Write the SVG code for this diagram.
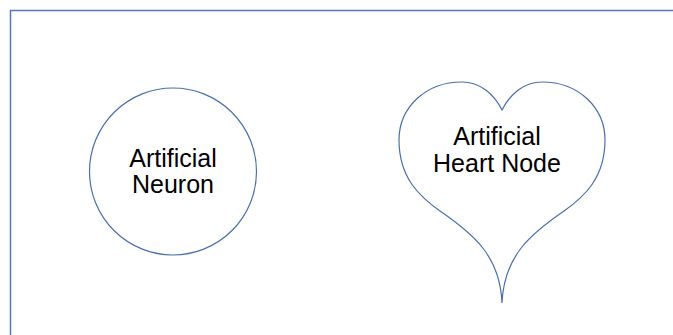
<svg xmlns="http://www.w3.org/2000/svg" width="673" height="335" viewBox="0 0 673 335">
<style>
.shape{fill:#ffffff;stroke:#4a6fae;stroke-width:1.2}
.lbl{font-family:"Liberation Sans",Arial,sans-serif;font-size:25px;fill:#000000;text-anchor:middle}
</style>
<rect x="0" y="0" width="673" height="335" fill="#ffffff"/>
<rect id="frame" x="10.5" y="10.5" width="700" height="400" fill="none" stroke="#4f78bd" stroke-width="1.5"/>
<g id="connectors"></g>
<g id="neuron">
<circle class="shape" cx="173" cy="171.5" r="83.5"/>
<text class="lbl" x="173" y="166.5">Artificial</text>
<text class="lbl" x="173" y="193">Neuron</text>
</g>
<g id="heart">
<path class="shape" d="M502,110 C494,94 480,82 462,82 C425,82 399,108 399,140 C399,178 420,197 440,211 C472,233 500,255 502,303 C504,255 532,233 564,211 C584,197 605,178 605,140 C605,108 579,82 542,82 C524,82 510,94 502,110 Z"/>
<text class="lbl" x="497" y="145">Artificial</text>
<text class="lbl" x="497" y="171.5">Heart Node</text>
</g>
</svg>
